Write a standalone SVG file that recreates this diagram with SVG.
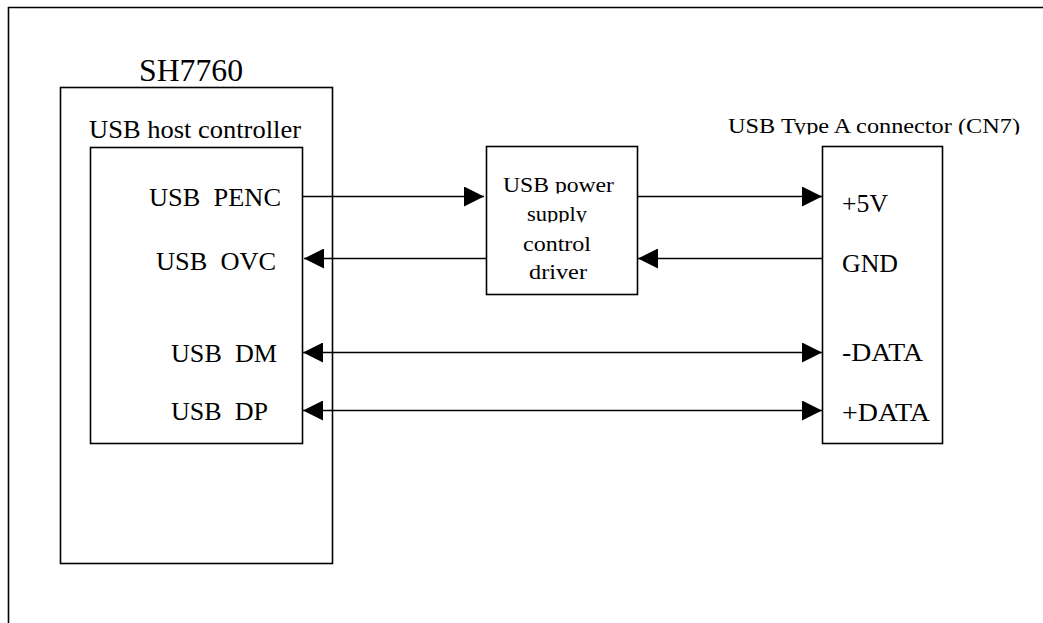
<svg xmlns="http://www.w3.org/2000/svg" width="1043" height="623" viewBox="0 0 1043 623">
<style>
.box{fill:none;stroke:#000;stroke-width:1.6}
.ln{fill:none;stroke:#000;stroke-width:1.6}
text{font-family:"Liberation Serif","Times New Roman",serif;fill:#000;white-space:pre}
.lab{font-size:25px}
.drv{font-size:21px}
</style>
<defs>
<marker id="ah" markerUnits="userSpaceOnUse" markerWidth="20" markerHeight="20" refX="20" refY="10" orient="auto-start-reverse">
<path d="M0,0 L20,10 L0,20 z" fill="#000"/>
</marker>
<clipPath id="c1"><rect x="480" y="160" width="160" height="33.5"/></clipPath>
<clipPath id="c2"><rect x="480" y="200" width="160" height="22.5"/></clipPath>
<clipPath id="c3"><rect x="700" y="100" width="343" height="34.5"/></clipPath>
</defs>
<rect width="1043" height="623" fill="#fff"/>
<path class="box" d="M8.5,623 V7.5 H1043"/>
<g id="sh7760">
<rect class="box" x="60.5" y="87.5" width="272" height="476"/>
<text x="139" y="81" style="font-size:32px" textLength="104" lengthAdjust="spacingAndGlyphs">SH7760</text>
</g>
<g id="host">
<rect class="box" x="90.5" y="147.5" width="212" height="296"/>
<text x="89" y="138" style="font-size:25px" textLength="212" lengthAdjust="spacingAndGlyphs">USB host controller</text>
<text class="lab" x="149" y="206" xml:space="preserve" textLength="132" lengthAdjust="spacingAndGlyphs">USB  PENC</text>
<text class="lab" x="156" y="270" xml:space="preserve" textLength="120" lengthAdjust="spacingAndGlyphs">USB  OVC</text>
<text class="lab" x="171" y="362" xml:space="preserve" textLength="106" lengthAdjust="spacingAndGlyphs">USB  DM</text>
<text class="lab" x="171" y="420" xml:space="preserve" textLength="97" lengthAdjust="spacingAndGlyphs">USB  DP</text>
</g>
<g id="driver">
<rect class="box" x="486.5" y="146.5" width="151" height="148"/>
<text class="drv" x="503" y="192" clip-path="url(#c1)" textLength="111" lengthAdjust="spacingAndGlyphs">USB power</text>
<text class="drv" x="527" y="221" clip-path="url(#c2)" textLength="60" lengthAdjust="spacingAndGlyphs">supply</text>
<text class="drv" x="523" y="251" textLength="68" lengthAdjust="spacingAndGlyphs">control</text>
<text class="drv" x="529" y="279" textLength="58" lengthAdjust="spacingAndGlyphs">driver</text>
</g>
<g id="connector">
<rect class="box" x="822.5" y="146.5" width="120" height="297"/>
<text x="728" y="133" style="font-size:22px" clip-path="url(#c3)" textLength="292" lengthAdjust="spacingAndGlyphs">USB Type A connector (CN7)</text>
<text class="lab" x="842" y="212" textLength="46" lengthAdjust="spacingAndGlyphs">+5V</text>
<text class="lab" x="842" y="272" textLength="56" lengthAdjust="spacingAndGlyphs">GND</text>
<text class="lab" x="842" y="361" textLength="81" lengthAdjust="spacingAndGlyphs">-DATA</text>
<text class="lab" x="842" y="421" textLength="88" lengthAdjust="spacingAndGlyphs">+DATA</text>
</g>
<g id="connectors">
<line class="ln" x1="302" y1="196.5" x2="484" y2="196.5" marker-end="url(#ah)"/>
<line class="ln" x1="637" y1="196.5" x2="822" y2="196.5" marker-end="url(#ah)"/>
<line class="ln" x1="486" y1="258.5" x2="304" y2="258.5" marker-end="url(#ah)"/>
<line class="ln" x1="822" y1="258.5" x2="638" y2="258.5" marker-end="url(#ah)"/>
<line class="ln" x1="303" y1="352.5" x2="822" y2="352.5" marker-start="url(#ah)" marker-end="url(#ah)"/>
<line class="ln" x1="303" y1="410.5" x2="822" y2="410.5" marker-start="url(#ah)" marker-end="url(#ah)"/>
</g>
</svg>
